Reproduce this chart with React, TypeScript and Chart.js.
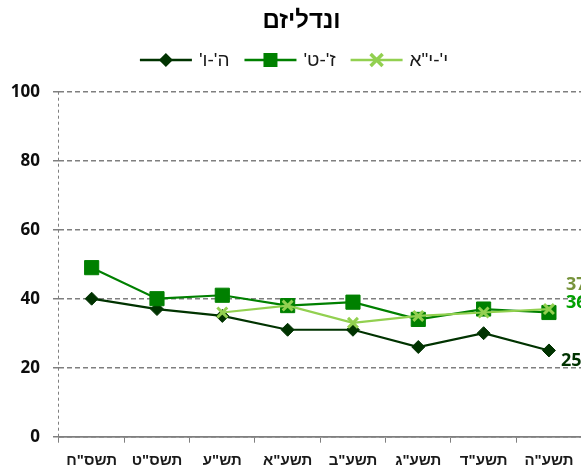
import React, { useEffect, useRef } from 'react';
import { Chart, registerables } from 'chart.js';

Chart.register(...registerables);

const chartTitle = 'ונדליזם';
const categories = ['תשס"ח', 'תשס"ט', 'תש"ע', 'תשע"א', 'תשע"ב', 'תשע"ג', 'תשע"ד', 'תשע"ה'];
const seriesNames = ["ה'-ו'", "ז'-ט'", 'י\'-י"א'];
const grades5to6 = [40, 37, 35, 31, 31, 26, 30, 25];
const grades7to9 = [49, 40, 41, 38, 39, 34, 37, 36];
const grades10to11 = [null, null, 36, 38, 33, 35, 36, 37];
const yMin = 0;
const yMax = 100;
const yStep = 20;

const seriesColors = ['#003300', '#008000', '#92D050'];
const endLabelColors = ['#003300', '#00A000', '#77933C'];
const HEB = "'Liberation Sans', 'DejaVu Sans', Arial, sans-serif";
const NUM = "'Open Sans', 'Liberation Sans', sans-serif";
const GRID = '#7f7f7f';

function drawMarker(ctx: CanvasRenderingContext2D, kind: number, x: number, y: number, color: string) {
  ctx.save();
  ctx.fillStyle = color;
  ctx.strokeStyle = color;
  if (kind === 0) {
    const r = 7;
    ctx.beginPath();
    ctx.moveTo(x - r, y);
    ctx.lineTo(x, y - r);
    ctx.lineTo(x + r, y);
    ctx.lineTo(x, y + r);
    ctx.closePath();
    ctx.fill();
  } else if (kind === 1) {
    ctx.fillRect(x - 7, y - 7, 14, 14);
  } else {
    const r = 6;
    ctx.lineWidth = 3.5;
    ctx.beginPath();
    ctx.moveTo(x - r, y - r);
    ctx.lineTo(x + r, y + r);
    ctx.moveTo(x + r, y - r);
    ctx.lineTo(x - r, y + r);
    ctx.stroke();
  }
  ctx.restore();
}

const legendPlugin = {
  id: 'customLegend',
  afterDraw(chart: any) {
    const ctx: CanvasRenderingContext2D = chart.ctx;
    const y = 60;
    const symW = 52;
    const gap = 7;
    const itemGap = 15;
    ctx.save();
    ctx.font = `19px ${HEB}`;
    const widths = seriesNames.map((n) => ctx.measureText(n).width);
    const total = widths.reduce((a, w) => a + symW + gap + w, 0) + itemGap * (seriesNames.length - 1);
    let x = 294 - total / 2;
    seriesNames.forEach((name, i) => {
      ctx.strokeStyle = seriesColors[i];
      ctx.lineWidth = 2.5;
      ctx.beginPath();
      ctx.moveTo(x, y);
      ctx.lineTo(x + symW, y);
      ctx.stroke();
      drawMarker(ctx, i, x + symW / 2, y, seriesColors[i]);
      ctx.fillStyle = '#1a1a1a';
      ctx.textAlign = 'left';
      ctx.textBaseline = 'middle';
      (ctx as any).direction = 'rtl';
      ctx.fillText(name, x + symW + gap, y + 1);
      x += symW + gap + widths[i] + itemGap;
    });
    ctx.restore();
  },
};

const endLabelPlugin = {
  id: 'endLabels',
  afterDatasetsDraw(chart: any) {
    const ctx: CanvasRenderingContext2D = chart.ctx;
    const dx = [12, 17, 17];
    const dy = [10, -9.5, -24];
    ctx.save();
    ctx.font = `bold 18px ${NUM}`;
    ctx.textAlign = 'left';
    ctx.textBaseline = 'middle';
    chart.data.datasets.forEach((ds: any, i: number) => {
      const meta = chart.getDatasetMeta(i);
      const n = ds.data.length - 1;
      const pt = meta.data[n];
      const v = ds.data[n];
      if (!pt || v == null) return;
      ctx.fillStyle = endLabelColors[i];
      ctx.fillText(String(v), pt.x + dx[i], pt.y + dy[i]);
    });
    ctx.restore();
  },
};

export default function App() {
  const canvasRef = useRef<HTMLCanvasElement | null>(null);

  useEffect(() => {
    const canvas = canvasRef.current;
    if (!canvas) return;
    const chart = new Chart(canvas, {
      type: 'line',
      data: {
        labels: categories,
        datasets: [
          {
            label: seriesNames[0],
            data: grades5to6,
            borderColor: seriesColors[0],
            backgroundColor: seriesColors[0],
            borderWidth: 2.2,
            pointStyle: 'rectRot',
            pointRadius: 6.5,
            pointBorderWidth: 1,
            order: 2,
          },
          {
            label: seriesNames[1],
            data: grades7to9,
            borderColor: seriesColors[1],
            backgroundColor: seriesColors[1],
            borderWidth: 2.2,
            pointStyle: 'rect',
            pointRadius: 10,
            pointBorderWidth: 1,
            order: 1,
          },
          {
            label: seriesNames[2],
            data: grades10to11,
            borderColor: seriesColors[2],
            backgroundColor: seriesColors[2],
            borderWidth: 2.2,
            pointStyle: 'crossRot',
            pointRadius: 7,
            pointBorderWidth: 3,
            order: 0,
          },
        ],
      },
      options: {
        responsive: false,
        animation: false,
        devicePixelRatio: 1,
        layout: { padding: 0 },
        plugins: {
          legend: { display: false },
          tooltip: { enabled: false },
          title: {
            display: true,
            text: chartTitle,
            color: '#000',
            font: { family: HEB, size: 24, weight: 'bold' },
            padding: { top: 7, bottom: 55.9 },
          },
        },
        scales: {
          x: {
            type: 'category',
            offset: true,
            grid: {
              offset: true,
              color: (c: any) => (c.index === 0 ? GRID : 'rgba(0,0,0,0)'),
              lineWidth: 1,
              drawTicks: true,
              tickLength: 6,
              tickColor: GRID,
              tickWidth: 1,
            },
            border: { display: true, color: GRID, width: 1.8, dash: [3, 3] },
            ticks: {
              color: '#1a1a1a',
              font: { family: HEB, size: 15, weight: 'bold' },
              padding: 9,
              maxRotation: 0,
              autoSkip: false,
            },
            afterFit: (s: any) => {
              s.height = 35.3;
            },
          },
          y: {
            type: 'linear',
            min: yMin,
            max: yMax,
            position: 'left',
            grid: {
              color: GRID,
              lineWidth: 1.5,
              drawTicks: true,
              tickLength: 6,
              tickColor: GRID,
            },
            border: { display: false, dash: [5, 3] },
            ticks: {
              stepSize: yStep,
              color: '#0d0d0d',
              font: { family: NUM, size: 17, weight: 'bold' },
              padding: 13,
            },
            afterFit: (s: any) => {
              s.width = 59;
            },
          },
          yRight: {
            type: 'linear',
            position: 'right',
            display: true,
            grid: { display: false, drawTicks: false },
            border: { display: false },
            ticks: { display: false },
            afterFit: (s: any) => {
              s.width = 21.4;
            },
          },
        },
      } as any,
      plugins: [legendPlugin, endLabelPlugin],
    });
    return () => chart.destroy();
  }, []);

  return (
    <div
      style={{
        position: 'fixed',
        left: 0,
        top: 0,
        width: 581,
        height: 472,
        overflow: 'hidden',
        background: '#fff',
      }}
    >
      <canvas ref={canvasRef} width={603} height={472} style={{ display: 'block', width: 603, height: 472 }} />
    </div>
  );
}
